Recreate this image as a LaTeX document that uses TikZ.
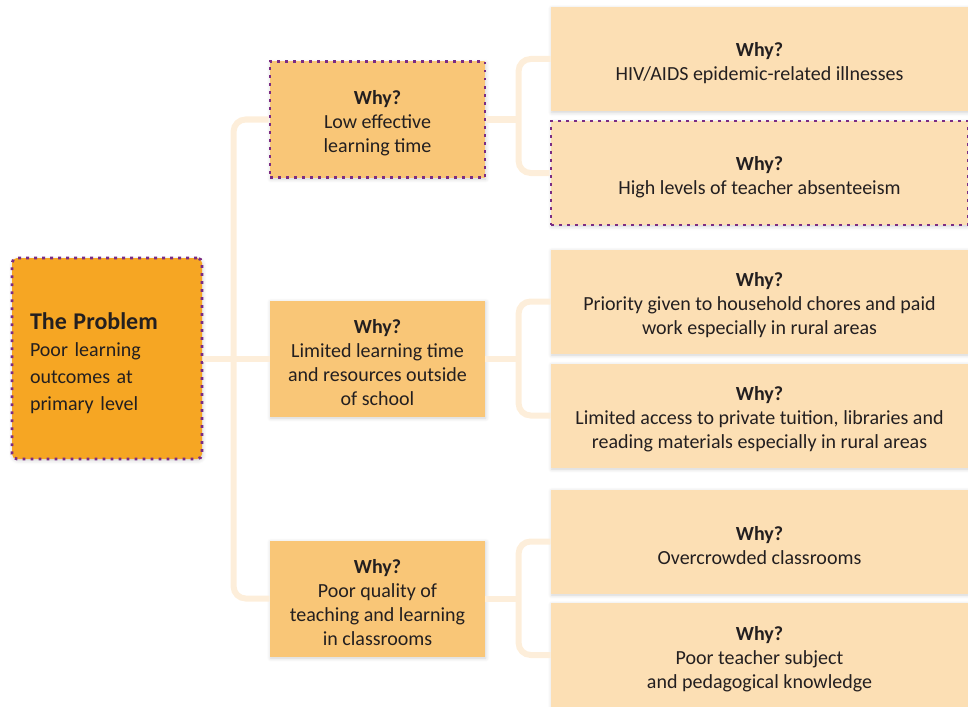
\documentclass[tikz,border=0pt]{standalone}
\usepackage{fontspec}
\setmainfont{Carlito}
\usetikzlibrary{shadows.blur}

\definecolor{problemorange}{HTML}{F6A623}
\definecolor{midorange}{HTML}{F9C677}
\definecolor{peach}{HTML}{FCDFB4}
\definecolor{linkcream}{HTML}{FDEEDA}
\definecolor{markpurple}{HTML}{7B2C84}
\definecolor{inkgray}{HTML}{231F20}

% heading line of every cause box
\newcommand\whyhead{\rule{0pt}{11pt}\textbf{Why?}}

\begin{document}
\begin{tikzpicture}[
  x=0.5pt,
  y=-0.5pt,
  font=\fontsize{10}{12}\selectfont,
  box/.style={
    draw=none,
    inner sep=0pt,
    align=center,
    text=inkgray,
    blur shadow={shadow blur steps=6, shadow xshift=0.4pt,
      shadow yshift=-0.8pt, shadow opacity=18}
  },
  problem/.style={
    box,
    fill=problemorange,
    rounded corners=2.5pt,
    minimum width=95pt,
    minimum height=100.5pt,
    text width=77pt,
    align=left,
    font=\fontsize{10}{13.5}\selectfont
  },
  whymid/.style={box, fill=midorange, minimum width=107.5pt, minimum height=58pt},
  whyright/.style={box, fill=peach, minimum width=208.5pt, minimum height=52pt},
  marked/.style={
    draw=markpurple,
    line width=1.4pt,
    dash pattern=on 1.4pt off 2.6pt,
    line cap=butt
  },
  link/.style={draw=linkcream, line width=3pt, rounded corners=6pt}
]
\useasboundingbox (0,0) rectangle (968,706);

% the problem
\node[problem, marked] (prob) at (107,358.5)
  {\rule{0pt}{13pt}{\fontsize{12}{13.5}\selectfont\bfseries The Problem}\\Poor learning\\outcomes at\\primary level};

% first level of causes
\node[whymid, marked] (mid1) at (377.5,119.5) {\whyhead\\Low effective\\learning time};
\node[whymid] (mid2) at (377.5,358.5) {\whyhead\\Limited learning time\\and resources outside\\of school};
\node[whymid] (mid3) at (377.5,598.5) {\whyhead\\Poor quality of\\teaching and learning\\in classrooms};

% second level of causes
\node[whyright] (r1) at (759.5,59) {\whyhead\\HIV/AIDS epidemic-related illnesses};
\node[whyright, marked] (r2) at (759.5,173) {\whyhead\\High levels of teacher absenteeism};
\node[whyright] (r3) at (759.5,301.5) {\whyhead\\Priority given to household chores and paid\\work especially in rural areas};
\node[whyright] (r4) at (759.5,415.5) {\whyhead\\Limited access to private tuition, libraries and\\reading materials especially in rural areas};
\node[whyright] (r5) at (759.5,541.5) {\whyhead\\Overcrowded classrooms};
\node[whyright] (r6) at (759.5,655) {\whyhead\\Poor teacher subject\\and pedagogical knowledge};

% connectors
\draw[link] (mid1.west) -- ++(-35,0) |- (mid3.west);
\draw[link] (prob.east) -- (mid2.west);
\draw[link] (r1.west) -- ++(-32,0) |- (r2.west);
\draw[link] (mid1.east) -- ++(34,0);
\draw[link] (r3.west) -- ++(-32,0) |- (r4.west);
\draw[link] (mid2.east) -- ++(34,0);
\draw[link] (r5.west) -- ++(-32,0) |- (r6.west);
\draw[link] (mid3.east) -- ++(34,0);

\end{tikzpicture}
\end{document}
